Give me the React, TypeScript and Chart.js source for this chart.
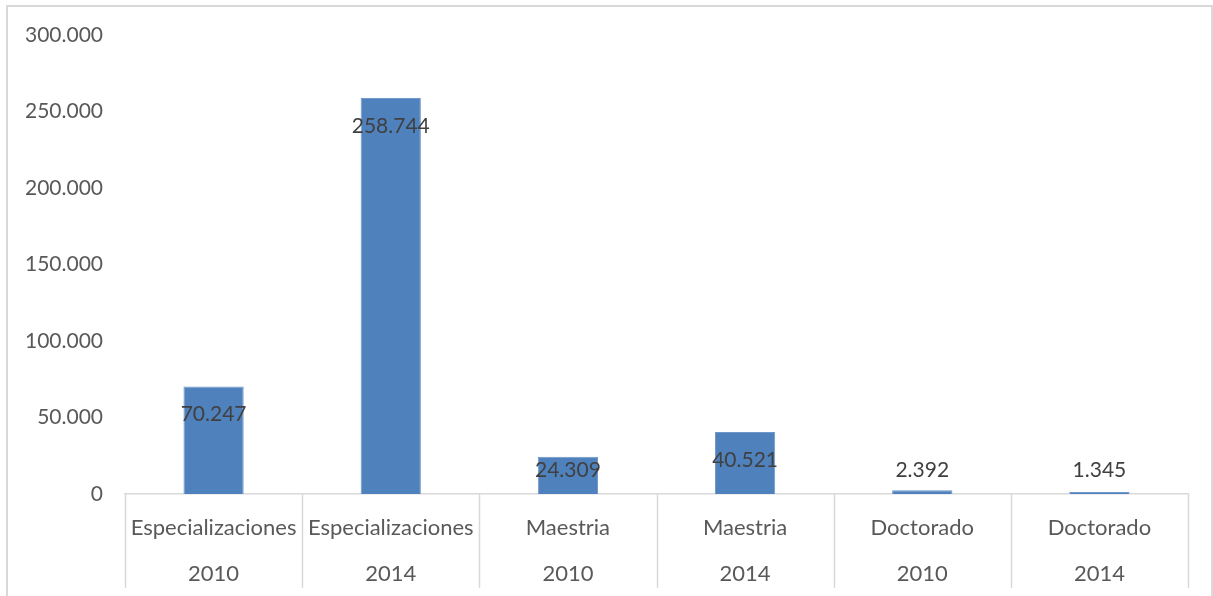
import React, { useEffect, useRef } from "react";
import { Chart, registerables } from "chart.js";

Chart.register(...registerables);

const programs = ["Especializaciones", "Especializaciones", "Maestria", "Maestria", "Doctorado", "Doctorado"];
const years = ["2010", "2014", "2010", "2014", "2010", "2014"];
const students = [70247, 258744, 24309, 40521, 2392, 1345];
const yTickMax = 300000;
const yTickStep = 50000;

const FONT = "Lato, 'Open Sans', sans-serif";

function fmt(v: number): string {
  const s = Math.round(v).toString();
  return s.replace(/\B(?=(\d{3})+(?!\d))/g, ".");
}

const decorPlugin = {
  id: "decor",
  afterDraw(chart: any) {
    const ctx = chart.ctx;
    const x = chart.scales.x;
    const area = chart.chartArea;
    ctx.save();
    // outer frame
    ctx.strokeStyle = "#d9d9d9";
    ctx.lineWidth = 2;
    ctx.strokeRect(7, 6, 1205, 620);
    // category separators
    ctx.lineWidth = 1.5;
    const n = x.ticks.length;
    const w = (area.right - area.left) / n;
    for (let i = 0; i <= n; i++) {
      const px = Math.round(area.left + i * w) + 0.5;
      ctx.beginPath();
      ctx.moveTo(px, area.bottom);
      ctx.lineTo(px, 588);
      ctx.stroke();
    }
    // data labels
    const meta = chart.getDatasetMeta(0);
    ctx.fillStyle = "#404040";
    ctx.font = `21px ${FONT}`;
    ctx.textAlign = "center";
    ctx.textBaseline = "middle";
    meta.data.forEach((bar: any, i: number) => {
      const ly = Math.min(bar.y + 28, bar.base - 24);
      ctx.fillText(fmt(students[i]), bar.x, ly);
    });
    ctx.restore();
  },
};

export default function App() {
  const ref = useRef<HTMLCanvasElement>(null);
  useEffect(() => {
    const chart = new Chart(ref.current!, {
      type: "bar",
      data: {
        labels: programs.map((p, i) => [p, years[i]]),
        datasets: [
          {
            data: students,
            backgroundColor: "#4F81BD",
            borderColor: "#6f97c8",
            borderWidth: 1,
            barPercentage: 0.34,
            categoryPercentage: 1,
          },
        ],
      },
      options: {
        animation: false,
        responsive: false,
        maintainAspectRatio: false,
        layout: { padding: { left: 0, top: 35, right: 25, bottom: 8 } },
        plugins: { legend: { display: false }, tooltip: { enabled: false } },
        scales: {
          x: {
            grid: { display: false },
            border: { display: true, color: "#d9d9d9", width: 1.5 },
            ticks: {
              color: "#595959",
              font: { family: FONT, size: 22, lineHeight: 2.1 },
              padding: 3,
              maxRotation: 0,
              autoSkip: false,
            },
            afterFit(s: any) {
              s.height = 94;
            },
          },
          y: {
            min: 0,
            max: yTickMax,
            grid: { display: false, drawTicks: false },
            border: { display: false },
            ticks: {
              stepSize: yTickStep,
              color: "#595959",
              font: { family: FONT, size: 21 },
              padding: 22,
              callback: (v: any) => fmt(Number(v)),
            },
            afterFit(s: any) {
              s.width = 125;
            },
          },
        },
      },
      plugins: [decorPlugin],
    });
    return () => chart.destroy();
  }, []);
  return (
    <div style={{ position: "fixed", left: 0, top: 0, width: 1213, height: 596, background: "#fff" }}>
      <canvas ref={ref} width={1213} height={596} style={{ display: "block" }} />
    </div>
  );
}
